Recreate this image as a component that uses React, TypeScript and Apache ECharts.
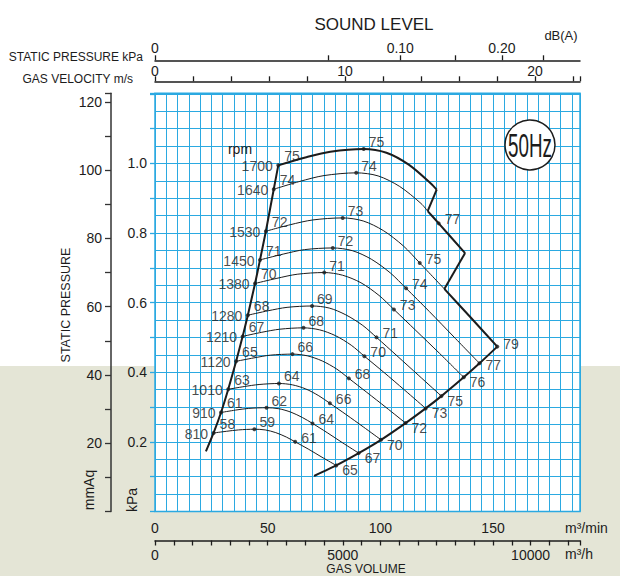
import React, { useEffect, useRef } from 'react';
import * as echarts from 'echarts';

// ---- data (gas volume m³/min, static pressure mmAq) ----
const RPM = [1700, 1640, 1530, 1450, 1380, 1280, 1210, 1120, 1010, 910, 810];
const DB_START = [75, 74, 72, 71, 70, 68, 67, 65, 63, 61, 58];
const DB_PEAK = [75, 74, 73, 72, 71, 69, 68, 66, 64, 62, 59];
const DB_MID: (number | null)[] = [null, 77, 75, 74, 73, 71, 70, 68, 66, 64, 61];
const DB_END: (number | null)[] = [null, null, 79, 77, 76, 75, 73, 72, 70, 67, 65];

const CURVE_1700 = [[54.7, 101.4], [66.7, 103.7], [77.8, 105.4], [92.6, 106.2], [102.7, 105.1], [112.6, 101.6], [122.4, 96.1], [125.0, 94.3]];
const CURVE_1640 = [[52.7, 94.4], [64.3, 96.7], [75.0, 98.4], [89.3, 99.2], [99.0, 98.3], [108.6, 95.2], [118.1, 90.2], [121.0, 88.0], [125.9, 84.4], [137.6, 75.7]];
const CURVE_1530 = [[49.2, 82.1], [60, 84.0], [70, 85.4], [83.3, 86.0], [92.4, 85.1], [101.3, 82.3], [110.2, 77.8], [117.5, 72.8], [128.4, 65.2], [140, 56.9], [151.9, 48.3]];
const CURVE_1450 = [[46.6, 73.7], [56.9, 75.4], [66.3, 76.7], [78.9, 77.2], [87.6, 76.4], [96.0, 73.9], [104.4, 69.9], [111.4, 65.4], [121.7, 58.6], [132.7, 51.1], [144.0, 43.4]];
const CURVE_1380 = [[44.4, 66.8], [54.1, 68.3], [63.1, 69.5], [75.1, 70.0], [83.3, 69.2], [91.4, 67.0], [99.4, 63.3], [106.0, 59.2], [115.8, 53.0], [126.3, 46.3], [137.0, 39.3]];
const CURVE_1280 = [[41.2, 57.5], [50.2, 58.8], [58.6, 59.8], [69.7, 60.2], [77.3, 59.6], [84.7, 57.6], [92.2, 54.5], [98.3, 51.0], [107.4, 45.6], [117.1, 39.8], [127.1, 33.8]];
const CURVE_1210 = [[38.9, 51.3], [47.4, 52.5], [55.4, 53.4], [65.9, 53.8], [73.1, 53.2], [80.1, 51.5], [87.1, 48.7], [92.9, 45.5], [101.5, 40.8], [110.7, 35.6], [120.1, 30.2]];
const CURVE_1120 = [[36.0, 44.0], [43.9, 45.0], [51.2, 45.8], [61.0, 46.1], [67.6, 45.6], [74.2, 44.1], [80.7, 41.7], [86.0, 39.0], [94.0, 34.9], [102.5, 30.5], [111.2, 25.9]];
const CURVE_1010 = [[32.5, 35.8], [39.6, 36.6], [46.2, 37.2], [55.0, 37.5], [61.0, 37.1], [66.9, 35.9], [72.7, 33.9], [77.6, 31.7], [84.8, 28.4], [92.4, 24.8], [100.3, 21.0]];
const CURVE_910 = [[29.3, 29.0], [35.7, 29.7], [41.6, 30.2], [49.5, 30.4], [55.0, 30.1], [60.3, 29.1], [65.5, 27.5], [69.9, 25.8], [76.4, 23.1], [83.3, 20.1], [90.4, 17.1]];
const CURVE_810 = [[26.0, 23.0], [31.8, 23.5], [37.1, 23.9], [44.1, 24.1], [48.9, 23.9], [53.6, 23.1], [58.3, 21.8], [62.2, 20.4], [68.0, 18.3], [74.1, 15.9], [80.4, 13.5]];

const LIMIT_LINE = [[22.6, 17.6], [26.0, 23.0], [29.3, 29.0], [32.5, 35.8], [36.0, 44.0], [38.9, 51.3], [41.2, 57.5], [44.4, 66.8], [46.6, 73.7], [49.2, 82.1], [52.7, 94.4], [54.7, 101.4]];
const MAX_FLOW_LINE = [[70.6, 10.4], [80.4, 13.5], [90.4, 17.1], [100.3, 21.0], [111.2, 25.9], [120.1, 30.2], [127.1, 33.8], [137.0, 39.3], [144.0, 43.4], [151.9, 48.3]];

// tick labels
const M3MIN_LABELS = [0, 50, 100, 150];
const M3H_LABELS = [0, 5000, 10000];
const VEL_LABELS = [0, 10, 20];
const MMAQ_LABELS = [20, 40, 60, 80, 100, 120];
const KPA_LABELS = [0.2, 0.4, 0.6, 0.8, 1.0];
const DYN_KPA_TICKS = [0, 0.05, 0.1, 0.15, 0.2, 0.25];
const DYN_KPA_LABELS = [0, 0.1, 0.2];

const CURVES = [CURVE_1700, CURVE_1640, CURVE_1530, CURVE_1450, CURVE_1380, CURVE_1280, CURVE_1210, CURVE_1120, CURVE_1010, CURVE_910, CURVE_810];

const X_MAX = 188.6; // m³/min at right edge
const Y_MAX = 122.5; // mmAq at top edge
const KPA_PER_MMAQ = 1 / 101.97;
const VEL_MAX = 22.37;
const AIR = 1.2;

const BLUE = '#2ba9e1';
const INK = '#1c1c1c';
const FONT = 'Liberation Sans, Arial, sans-serif';

const velForKpa = (p: number) => Math.sqrt((2 * p * 1000) / AIR);

function buildOption() {
  const line = (data: number[][], width: number, smooth: number | boolean = 0.3) => ({
    type: 'line',
    data,
    symbol: 'none',
    showSymbol: false,
    smooth,
    silent: true,
    z: 3,
    lineStyle: { color: INK, width },
  });

  const series: any[] = [];
  // thin curves
  CURVES.forEach((c, i) => {
    if (i === 0) return;
    if (i === 1) series.push(line(c.slice(0, 8), 1));
    else if (i === 2) series.push(line(c.slice(0, 9), 1));
    else series.push(line(c, 1));
  });
  // thick boundary
  series.push(line(CURVE_1700, 2));
  series.push(line([CURVE_1700[CURVE_1700.length - 1], CURVE_1640[7]], 2, false));
  series.push(line(CURVE_1640.slice(7), 2));
  series.push(line([CURVE_1640[9], CURVE_1530[8]], 2, false));
  series.push(line(CURVE_1530.slice(8), 2));
  series.push(line(LIMIT_LINE, 2, 0.2));
  series.push(line(MAX_FLOW_LINE, 2, 0.2));

  const lbl = (offset: number[], distance: number, position: string = 'right') => ({
    show: true,
    position,
    distance,
    offset,
    formatter: (p: any) => String(p.value[2]),
    fontSize: 14,
    fontFamily: FONT,
    color: INK,
  });

  const startPts: any[] = [];
  const rpmPts: any[] = [];
  const peakPts: any[] = [];
  const midPts: any[] = [];
  const endPts: any[] = [];
  CURVES.forEach((c, i) => {
    startPts.push({ value: [c[0][0], c[0][1], DB_START[i]] });
    rpmPts.push({ value: [c[0][0], c[0][1], RPM[i]] });
    peakPts.push({ value: [c[3][0], c[3][1], DB_PEAK[i]] });
    if (DB_MID[i] != null) {
      const m = i === 1 ? c[8] : c[7];
      midPts.push({ value: [m[0], m[1], DB_MID[i]] });
    }
    if (DB_END[i] != null) {
      const e = c[10];
      const item: any = { value: [e[0], e[1], DB_END[i]] };
      if (i === 2) item.label = { offset: [0, -3] };
      if (i === 3) item.label = { offset: [0, 2] };
      endPts.push(item);
    }
  });

  const dotSeries = (data: any[], label: any) => ({
    type: 'scatter',
    data,
    symbol: 'circle',
    symbolSize: 4,
    itemStyle: { color: INK },
    label,
    silent: true,
    z: 4,
  });
  series.push(dotSeries(startPts, lbl([0, -9], 4)));
  series.push(dotSeries(peakPts, lbl([0, -7], 3)));
  series.push(dotSeries(midPts, lbl([0, -4], 4)));
  series.push(dotSeries(endPts, lbl([0, 5], 4)));
  series.push({
    type: 'scatter',
    data: rpmPts,
    symbol: 'circle',
    symbolSize: 1,
    itemStyle: { color: 'rgba(0,0,0,0)' },
    label: lbl([0, 1], 5, 'left'),
    silent: true,
    z: 4,
  });

  const txt = { fontSize: 14, fontFamily: FONT, color: INK };

  const graphicText = (x: number, y: number, text: string, fontSize: number, align: string = 'center', rotation = 0, extra: any = {}) => ({
    type: 'text',
    x,
    y,
    rotation,
    z: 60,
    ...extra,
    style: { text, fontSize, fontFamily: FONT, fill: INK, align, verticalAlign: 'middle' },
  });

  return {
    animation: false,
    backgroundColor: 'transparent',
    grid: {
      left: 155,
      top: 93.3,
      width: 425,
      height: 418.2,
      show: true,
      backgroundColor: '#ffffff',
      borderColor: BLUE,
      borderWidth: 1.5,
    },
    xAxis: [
      {
        type: 'value', position: 'bottom', min: 0, max: X_MAX, interval: 5,
        axisLine: { show: false }, axisTick: { show: false },
        axisLabel: { ...txt, margin: 9, formatter: (v: number) => (M3MIN_LABELS.includes(v) ? String(v) : '') },
        splitLine: { show: true, lineStyle: { color: BLUE, width: 1 } },
      },
      {
        type: 'value', position: 'bottom', offset: 29, min: 0, max: X_MAX * 60, interval: 500,
        axisLine: { show: true, onZero: false, lineStyle: { color: INK, width: 1.5 } },
        axisTick: { show: true, length: 5, lineStyle: { color: INK, width: 1.3 } },
        axisLabel: { ...txt, margin: 7, formatter: (v: number) => (M3H_LABELS.includes(v) ? String(v) : '') },
        splitLine: { show: false },
      },
      {
        type: 'value', position: 'top', offset: 12, min: 0, max: VEL_MAX, interval: 2,
        axisLine: { show: true, onZero: false, lineStyle: { color: INK, width: 1.5 } },
        axisTick: { show: true, length: 5, lineStyle: { color: INK, width: 1.3 } },
        axisLabel: { ...txt, margin: 3, formatter: (v: number) => (VEL_LABELS.includes(v) ? String(v) : '') },
        splitLine: { show: false },
      },
      {
        type: 'value', position: 'top', offset: 33, min: 0, max: VEL_MAX,
        axisLine: { show: true, onZero: false, lineStyle: { color: INK, width: 1.5 } },
        axisTick: { show: true, length: 5, lineStyle: { color: INK, width: 1.3 }, customValues: DYN_KPA_TICKS.map(velForKpa) },
        axisLabel: {
          ...txt, margin: 5,
          customValues: DYN_KPA_LABELS.map(velForKpa),
          formatter: (v: number) => {
            const p = Math.round(((AIR / 2) * v * v) / 1000 * 100) / 100;
            return p === 0 ? '0' : p.toFixed(2);
          },
        },
        splitLine: { show: false },
      },
    ],
    yAxis: [
      {
        type: 'value', position: 'left', offset: 44, min: 0, max: Y_MAX, interval: 10,
        axisLine: { show: true, onZero: false, lineStyle: { color: '#333', width: 1.5 } },
        axisTick: { show: true, length: 6, lineStyle: { color: '#333', width: 1.3 } },
        axisLabel: { ...txt, margin: 9, formatter: (v: number) => (MMAQ_LABELS.includes(v) ? String(v) : '') },
        splitLine: { show: false },
      },
      {
        type: 'value', position: 'left', offset: 0, min: 0, max: Y_MAX * KPA_PER_MMAQ, interval: 0.1,
        axisLine: { show: false },
        axisTick: { show: true, length: 5, lineStyle: { color: BLUE, width: 1.3 } },
        axisLabel: {
          ...txt, margin: 8,
          formatter: (v: number) => {
            const n = Math.round(v * 10) / 10;
            return Math.abs(v - n) < 1e-6 && KPA_LABELS.some((k) => Math.abs(k - n) < 1e-6) ? n.toFixed(1) : '';
          },
        },
        splitLine: { show: true, lineStyle: { color: BLUE, width: 1 } },
        minorTick: { show: false, splitNumber: 2 },
        minorSplitLine: { show: true, lineStyle: { color: BLUE, width: 1 } },
      },
    ],
    series,
    graphic: [
      graphicText(374, 24, 'SOUND LEVEL', 17),
      graphicText(561, 35, 'dB(A)', 13),
      graphicText(143, 57, 'STATIC PRESSURE kPa', 12, 'right'),
      graphicText(133, 79, 'GAS VELOCITY m/s', 12, 'right'),
      graphicText(240, 149, 'rpm', 14),
      graphicText(66, 305, 'STATIC PRESSURE', 12.5, 'center', Math.PI / 2),
      graphicText(89, 490, 'mmAq', 14, 'center', Math.PI / 2),
      graphicText(132, 500, 'kPa', 14, 'center', Math.PI / 2),
      graphicText(565, 528, 'm³/min', 14, 'left'),
      graphicText(565, 554, 'm³/h', 14, 'left'),
      graphicText(366, 569, 'GAS VOLUME', 12),
      {
        type: 'circle', z: 60,
        shape: { cx: 530, cy: 145, r: 25 },
        style: { fill: '#ffffff', stroke: INK, lineWidth: 1.5 },
      },
      graphicText(530, 146, '50Hz', 33, 'center', 0, { scaleX: 0.57, z: 61 }),
    ],
  };
}

export default function App() {
  const ref = useRef<HTMLDivElement>(null);
  useEffect(() => {
    if (!ref.current) return;
    const chart = echarts.init(ref.current, null, { renderer: 'svg' });
    chart.setOption(buildOption() as any);
    return () => chart.dispose();
  }, []);
  return (
    <div
      ref={ref}
      style={{
        position: 'absolute',
        left: 0,
        top: 0,
        width: 620,
        height: 576,
        background: 'linear-gradient(to bottom, #ffffff 0px, #ffffff 366px, #e4e5d6 366px, #e4e5d6 576px)',
      }}
    />
  );
}
